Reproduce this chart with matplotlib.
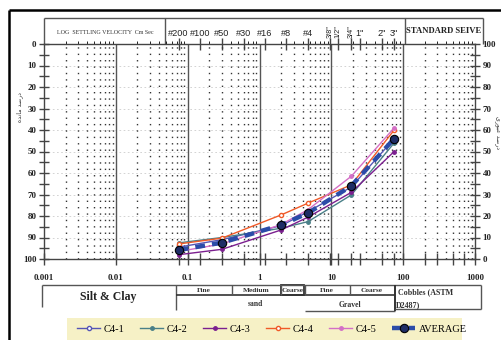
import numpy as np
import matplotlib
matplotlib.use('Agg')
import matplotlib.pyplot as plt
from matplotlib.lines import Line2D
from matplotlib.patches import Rectangle

# ---------------- data (percent retained, left axis) ----------------
sizes = [0.075, 0.3, 2.0, 4.75, 19, 75]
c4_1 = [94.5, 91.0, 84.5, 78.0, 66.5, 44.0]
c4_2 = [92.5, 90.0, 85.7, 82.6, 70.2, 46.0]
c4_3 = [98.0, 95.5, 86.5, 80.5, 69.0, 50.0]
c4_4 = [93.0, 90.3, 79.5, 74.0, 65.5, 40.0]
c4_5 = [96.5, 93.0, 84.0, 77.0, 61.5, 39.0]
average = [95.8, 92.4, 84.2, 78.6, 66.0, 44.0]
series_names = ['C4-1', 'C4-2', 'C4-3', 'C4-4', 'C4-5', 'AVERAGE']

sieve_sizes = [0.075, 0.15, 0.3, 0.6, 1.18, 2.36, 4.75, 9.5, 12.5, 19, 25, 50, 75]
sieve_labels = ['#200', '#100', '#50', '#30', '#16', '#8', '#4', '3/8"', '1/2"', '3/4"', '1"', '2"', '3"']
decade_ticks = [0.001, 0.01, 0.1, 1, 10, 100, 1000]
decade_labels = ['0.001', '0.01', '0.1', '1', '10', '100', '1000']
left_ticks = list(range(0, 101, 10))
right_labels = [str(100 - v) for v in left_ticks]

W, H = 502, 340
fig = plt.figure(figsize=(W / 100, H / 100), dpi=100)
fig.patch.set_facecolor('white')

def px_axes(l, t, r, b, **kw):
    return fig.add_axes([l / W, 1 - b / H, (r - l) / W, (b - t) / H], **kw)

# ---------------- overlay for frames / tables ----------------
ov = px_axes(0, 0, W, H)
ov.set_xlim(0, W); ov.set_ylim(H, 0); ov.axis('off')
ov.set_zorder(0)

def ln(x0, y0, x1, y1, lw=1.0, c='#555555'):
    ov.add_line(Line2D([x0, x1], [y0, y1], lw=lw, color=c, solid_capstyle='butt'))

# outer frame
ln(9, 10, 502, 10, lw=1.8, c='black')
ln(9, 10, 9, 340, lw=1.8, c='black')

# header box
ln(44, 18, 483, 18); ln(44, 18, 44, 44); ln(483, 18, 483, 44)
ln(165, 18, 165, 44); ln(405, 18, 405, 44)
serif = 'Liberation Serif'
ov.text(105, 33, 'LOG  SETTLING VELOCITY  Cm Sec', fontsize=4.3, family=serif,
        ha='center', va='center', color='#333333')
ov.text(444, 31, 'STANDARD SEIVE', fontsize=6.2, family=serif, fontweight='bold',
        ha='center', va='center', color='#222222')

# classification table
ln(42, 285, 481, 285)
ln(42, 285, 42, 307)
ln(176, 285, 176, 310)
ln(176, 295, 395, 295, lw=1.2, c='#333333')
ln(232, 285, 232, 295); ln(281, 285, 281, 295); ln(305, 285, 305, 295)
ln(350, 285, 350, 295)
ln(305, 311, 395, 311)
ln(395, 285, 395, 311, lw=1.4, c='#333333')
ln(481, 285, 481, 309); ln(395, 309, 481, 309)
ov.add_patch(Rectangle((281, 285), 23, 10, fill=False, lw=1.3, ec='#333333'))
ov.text(108, 297, 'Silt & Clay', fontsize=8.5, family=serif, fontweight='bold',
        ha='center', va='center', color='#222222')
for x, t in [(204, 'Fine'), (256, 'Medium'), (293, 'Coarse'), (327, 'Fine'), (372, 'Coarse')]:
    ov.text(x, 290.5, t, fontsize=5.3, family=serif, fontweight='bold', ha='center',
            va='center', color='#333333')
ov.text(255, 304, 'sand', fontsize=5.5, family=serif, fontweight='bold', ha='center',
        va='center', color='#333333')
ov.text(350, 305, 'Gravel', fontsize=5.5, family=serif, fontweight='bold', ha='center',
        va='center', color='#333333')
ov.text(398, 292, 'Cobbles (ASTM', fontsize=5.8, family=serif, fontweight='bold', ha='left',
        va='center', color='#333333')
ov.text(396, 305, 'D2487)', fontsize=5.8, family=serif, fontweight='bold', ha='left',
        va='center', color='#333333')

# legend background
ov.add_patch(Rectangle((67, 318), 395, 30, fc='#f6f1c6', ec='none'))

# Persian axis titles (presentation forms, visual order)
left_title = '\uFEE9\uFEAA\uFEE7\uFE8E\uFEE3 \uFEAA\uFEBB\uFEAD\uFEA9'
right_title = '\uFEEF\uFEAD\uFEEE\uFE92\uFECB \uFEAA\uFEBB\uFEAD\uFEA9'
ov.text(20, 107, left_title, fontsize=4.5, family='DejaVu Sans', rotation=90,
        ha='center', va='center', color='#333333')
ov.text(497, 132, right_title, fontsize=4.5, family='DejaVu Sans', rotation=270,
        ha='center', va='center', color='#333333')

# ---------------- main axes ----------------
ax = px_axes(44, 44, 475, 259)
ax.set_zorder(2)
ax.patch.set_alpha(0)
ax.set_xscale('log')
ax.set_xlim(0.001, 1000)
ax.set_ylim(100, 0)

# grid
for d in [0.01, 0.1, 1, 10, 100]:
    ax.axvline(d, color='#555555', lw=1.0, zorder=1)
for e in range(-3, 3):
    for k in range(2, 10):
        ax.axvline(k * 10.0 ** e, color='#333333', lw=1.0, ls=(0, (1, 3.6)), zorder=1)
for v in range(10, 100, 10):
    ax.axhline(v, color='#cccccc', lw=0.6, ls=(0, (2, 3)), zorder=0.5)

for s in ax.spines.values():
    s.set_color('#444444'); s.set_linewidth(1.0)

# bottom ticks: sieve sizes (marks only) + decade labels
ax.set_xticks(decade_ticks)
ax.set_xticklabels(decade_labels)
ax.xaxis.set_minor_locator(matplotlib.ticker.FixedLocator(sieve_sizes + [200, 300, 500, 700]))
ax.xaxis.set_minor_formatter(matplotlib.ticker.NullFormatter())
ax.tick_params(axis='x', which='major', direction='inout', length=8, width=1, colors='#444444',
               pad=7, labelsize=6.5)
ax.tick_params(axis='x', which='minor', direction='inout', length=8, width=1, colors='#444444')
for lab in ax.get_xticklabels():
    lab.set_family(serif); lab.set_fontweight('bold'); lab.set_color('#222222')

ax.set_yticks(left_ticks)
ax.set_yticklabels([str(v) for v in left_ticks])
ax.yaxis.set_minor_locator(matplotlib.ticker.MultipleLocator(5))
ax.tick_params(axis='y', which='both', direction='inout', length=7, width=1, colors='#444444',
               labelsize=6.5, pad=2)
for lab in ax.get_yticklabels():
    lab.set_family(serif); lab.set_fontweight('bold'); lab.set_color('#222222')

# top: sieve ticks with labels
axt = ax.secondary_xaxis('top')
axt.set_xticks(sieve_sizes)
axt.set_xticklabels(sieve_labels)
axt.tick_params(direction='inout', length=8, width=1, colors='#444444', labelsize=6.6, pad=0)
for lab, t in zip(axt.get_xticklabels(), sieve_labels):
    lab.set_family('Liberation Sans'); lab.set_color('#222222')
    if '/' in t:
        lab.set_rotation(90); lab.set_fontsize(5.3)
axt.spines['top'].set_visible(False)

# right axis (percent passing)
axr = ax.twinx()
axr.set_ylim(100, 0)
axr.set_yticks(left_ticks)
axr.set_yticklabels(right_labels)
axr.yaxis.set_minor_locator(matplotlib.ticker.MultipleLocator(5))
axr.tick_params(axis='y', which='both', direction='inout', length=7, width=1, colors='#444444',
                labelsize=6.5, pad=2)
for lab in axr.get_yticklabels():
    lab.set_family(serif); lab.set_fontweight('bold'); lab.set_color('#222222')
for s in axr.spines.values():
    s.set_visible(False)

# ---------------- series ----------------
h1, = ax.plot(sizes, c4_1, color='#5555b5', lw=1.0, marker='o', ms=3, mfc='white', mec='#5555b5', zorder=4)
h2, = ax.plot(sizes, c4_2, color='#4a8088', lw=1.0, marker='o', ms=2.5, zorder=4)
h3, = ax.plot(sizes, c4_3, color='#7b1f8f', lw=1.0, marker='o', ms=2.5, zorder=4)
h4, = ax.plot(sizes, c4_4, color='#f05a28', lw=1.0, marker='o', ms=3, mfc='white', mec='#f05a28', zorder=4)
h5, = ax.plot(sizes, c4_5, color='#d36fc6', lw=1.0, marker='o', ms=2.5, zorder=4)
h6, = ax.plot(sizes, average, color='#2b4ca8', lw=3.2, ls=(0, (2.2, 1.6)), marker='o', ms=6,
              mfc='#1e2d66', mec='black', mew=0.8, zorder=5)

leg = fig.legend([h1, h2, h3, h4, h5, h6], series_names, loc='center',
                 bbox_to_anchor=(272 / W, 1 - 329 / H), ncol=6, frameon=False,
                 prop={'family': serif, 'size': 7.5}, handlelength=2.2, handletextpad=0.3,
                 columnspacing=1.55)

fig.savefig('out.png', dpi=100)
